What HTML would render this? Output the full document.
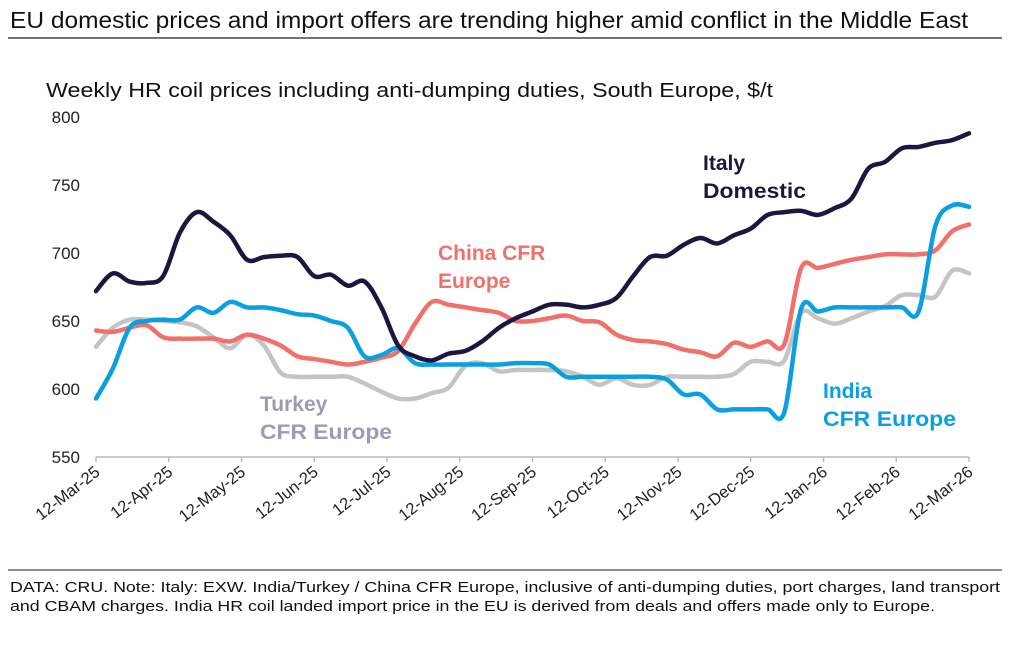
<!DOCTYPE html>
<html><head><meta charset="utf-8"><style>
body{margin:0;background:#fff;font-family:"Liberation Sans",Arial,sans-serif;}
</style></head><body>
<svg width="1024" height="650" xmlns="http://www.w3.org/2000/svg" font-family="Liberation Sans, Arial, sans-serif">
<text x="10" y="28" font-size="23" fill="#111" textLength="958" lengthAdjust="spacingAndGlyphs">EU domestic prices and import offers are trending higher amid conflict in the Middle East</text>
<line x1="8" y1="38" x2="1002" y2="38" stroke="#222" stroke-width="1.2"/>
<text x="46" y="97" font-size="20" fill="#111" textLength="727" lengthAdjust="spacingAndGlyphs">Weekly HR coil prices including anti-dumping duties, South Europe, $/t</text>
<g id="yaxis"></g>
<g id="xaxis"></g>
<g id="series"></g>
<text x="703" y="170" font-size="21" font-weight="bold" fill="#1c1640"><tspan x="703">Italy</tspan><tspan x="703" dy="28" textLength="103" lengthAdjust="spacingAndGlyphs">Domestic</tspan></text>
<text x="438" y="260" font-size="21" font-weight="bold" fill="#f0706a"><tspan x="438">China CFR</tspan><tspan x="438" dy="28">Europe</tspan></text>
<text x="260" y="411" font-size="21" font-weight="bold" fill="#9e9ab5"><tspan x="260">Turkey</tspan><tspan x="260" dy="28" textLength="132" lengthAdjust="spacingAndGlyphs">CFR Europe</tspan></text>
<text x="823" y="398" font-size="21" font-weight="bold" fill="#0aa0e0"><tspan x="823">India</tspan><tspan x="823" dy="28" textLength="133" lengthAdjust="spacingAndGlyphs">CFR Europe</tspan></text>
<line x1="8" y1="570" x2="1002" y2="570" stroke="#222" stroke-width="1"/>
<text x="10" y="592" font-size="15" fill="#111" textLength="990" lengthAdjust="spacingAndGlyphs">DATA: CRU. Note: Italy: EXW. India/Turkey / China CFR Europe, inclusive of anti-dumping duties, port charges, land transport</text>
<text x="10" y="611" font-size="15" fill="#111" textLength="925" lengthAdjust="spacingAndGlyphs">and CBAM charges. India HR coil landed import price in the EU is derived from deals and offers made only to Europe.</text>
</svg>
<script>
const xTickLabels=["12-Mar-25","12-Apr-25","12-May-25","12-Jun-25","12-Jul-25","12-Aug-25","12-Sep-25","12-Oct-25","12-Nov-25","12-Dec-25","12-Jan-26","12-Feb-26","12-Mar-26"];
const yTicks=[550,600,650,700,750,800];
const italy=[672,685,679,678,683,715,730,723,713,695,697,698,697,683,684,676,679,660,632,624,621,626,628,635,645,652,657,662,662,660,662,667,683,697,698,706,711,707,713,718,728,730,731,728,733,740,762,767,777,778,781,783,788];
const china=[643,642,645,647,638,637,637,637,635,640,637,632,624,622,620,618,620,623,628,648,664,662,660,658,656,650,650,652,654,650,649,640,636,635,633,629,627,624,634,631,635,633,689,689,692,695,697,699,699,699,702,716,721];
const india=[593,615,645,650,651,651,660,656,664,660,660,658,655,654,650,645,624,625,630,619,618,618,618,618,618,619,619,618,609,609,609,609,609,609,607,596,596,585,585,585,585,583,659,657,660,660,660,660,660,657,720,735,734];
const turkey=[631,645,651,651,650,649,646,638,630,640,632,612,609,609,609,609,604,598,593,593,597,601,617,619,613,614,614,614,613,609,603,608,603,603,609,609,609,609,611,620,620,621,656,652,648,652,657,661,669,669,668,687,685];
const NS="http://www.w3.org/2000/svg";
const X0=96,X1=969,YB=457,YT=117,VMIN=550,VMAX=800;
const nWeeks=italy.length-1;
function xW(i){return X0+(X1-X0)*i/nWeeks;}
function xM(m){return X0+(X1-X0)*m/(xTickLabels.length-1);}
function yV(v){return YB-(v-VMIN)*(YB-YT)/(VMAX-VMIN);}
function mk(t,a,p){const e=document.createElementNS(NS,t);for(const k in a)e.setAttribute(k,a[k]);p.appendChild(e);return e;}
const ya=document.getElementById('yaxis');
yTicks.forEach(v=>{const t=mk('text',{x:80,y:yV(v)+6,'text-anchor':'end','font-size':17,fill:'#222'},ya);t.textContent=v;

});
const xa=document.getElementById('xaxis');
const al=mk('line',{x1:X0,y1:YB,x2:X1,y2:YB,stroke:'#bbb','stroke-width':1.5},xa);


xTickLabels.forEach((l,m)=>{const x=xM(m);
const tk=mk('line',{x1:x,y1:YB,x2:x,y2:YB+5,stroke:'#bbb','stroke-width':1.5},xa);


const t=mk('text',{x:x+5,y:YB+17,'text-anchor':'end','font-size':16.5,fill:'#222',transform:`rotate(-38 ${x+5} ${YB+17})`},xa);t.textContent=l;

});
function path(arr){const p=arr.map((v,i)=>[xW(i),yV(v)]);let d=`M${p[0][0]},${p[0][1]}`;
for(let i=0;i<p.length-1;i++){const a=p[Math.max(i-1,0)],b=p[i],c=p[i+1],e=p[Math.min(i+2,p.length-1)];
d+=` C${b[0]+(c[0]-a[0])/6},${b[1]+(c[1]-a[1])/6} ${c[0]-(e[0]-b[0])/6},${c[1]-(e[1]-b[1])/6} ${c[0]},${c[1]}`;}return d;}
const sg=document.getElementById('series');
[[turkey,'#c4c4c4','line-turkey'],[china,'#f0706a','line-china'],[india,'#0aa0e0','line-india'],[italy,'#1c1640','line-italy']].forEach(s=>{
const e=mk('path',{d:path(s[0]),fill:'none',stroke:s[1],'stroke-width':4.5,'stroke-linejoin':'round','stroke-linecap':'round'},sg);

});
</script>
</body></html>
